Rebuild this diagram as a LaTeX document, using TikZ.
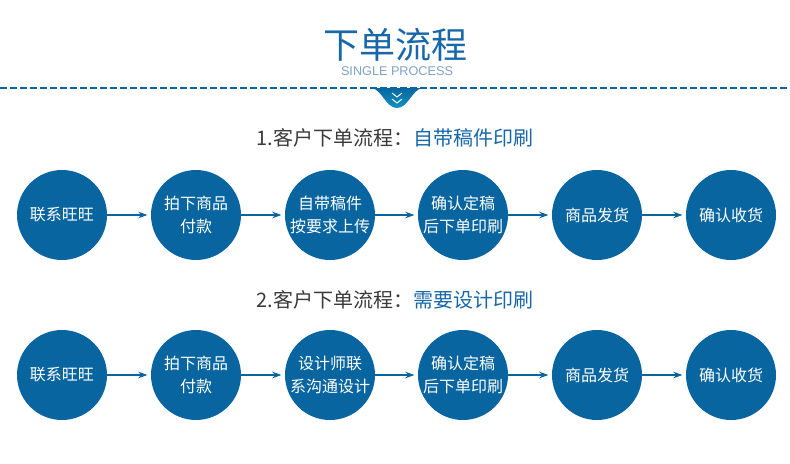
\documentclass[tikz,border=0pt]{standalone}
\usepackage{fontspec}
\setmainfont{Liberation Sans}
\newfontfamily\cjk{Noto Sans CJK SC}
\usepackage{tikz}
\usetikzlibrary{arrows, arrows.meta, positioning, shadings}
\usepackage{xcolor}
\definecolor{dotblue}{HTML}{08659F}
\definecolor{headblue}{HTML}{1767A9}
\definecolor{headgray}{HTML}{3A3A3A}
\definecolor{subblue}{HTML}{7FA2C6}
\tikzstyle{stage}     = [circle, fill=dotblue, minimum size=67.5pt, inner sep=0pt, align=center, text=white, font=\cjk\fontsize{12pt}{17pt}\selectfont]
\tikzstyle{flow}      = [draw=dotblue, line width=0.8pt, shorten >=2.5pt, -{Stealth[length=7pt,width=5pt,inset=2.5pt]}]
\tikzstyle{heading}   = [font=\cjk\fontsize{15pt}{17pt}\selectfont, inner sep=0pt]

\begin{document}
\begin{tikzpicture}[x=0.75pt,y=-0.75pt]

\useasboundingbox[fill=white] (0,0) rectangle (790,464);

% title
\node[font=\cjk\fontsize{27pt}{30pt}\selectfont, text=headblue, inner sep=0pt] (title) at (395,45) {下单流程};
\node[font=\fontsize{9.5pt}{11pt}\selectfont, text=subblue, inner sep=0pt] (sub) at (397,71) {SINGLE PROCESS};

% dashed rule with tab
\coordinate (ruleL) at (0,88);
\coordinate (ruleR) at (790,88);
\draw[dotblue, line width=0.8pt, dash pattern=on 5pt off 2.5pt] (ruleL) -- (ruleR);
\shade[top color=dotblue, bottom color=headblue!70!cyan] (372,88) .. controls (382,90) and (386,108) .. (397,108) .. controls (408,108) and (412,90) .. (422,88) -- cycle;
\draw[white, line width=0.7pt] (392,93) -- (397,97) -- (402,93);
\draw[white, line width=0.7pt] (392,99) -- (397,103) -- (402,99);

% first flow
\node[heading] (H1) at (395,138) {\textcolor{headgray}{1.客户下单流程：}\textcolor{headblue}{自带稿件印刷}};

\node[stage] (A1) at (62,215)  {联系旺旺};
\node[stage] (A2) at (196,215) {拍下商品\\付款};
\node[stage] (A3) at (330,215) {自带稿件\\按要求上传};
\node[stage] (A4) at (463,215) {确认定稿\\后下单印刷};
\node[stage] (A5) at (597,215) {商品发货};
\node[stage] (A6) at (731,215) {确认收货};

\draw[flow] (A1) -- (A2);
\draw[flow] (A2) -- (A3);
\draw[flow] (A3) -- (A4);
\draw[flow] (A4) -- (A5);
\draw[flow] (A5) -- (A6);

% second flow
\node[heading] (H2) at (395,300) {\textcolor{headgray}{2.客户下单流程：}\textcolor{headblue}{需要设计印刷}};

\node[stage] (B1) at (62,375)  {联系旺旺};
\node[stage] (B2) at (196,375) {拍下商品\\付款};
\node[stage] (B3) at (330,375) {设计师联\\系沟通设计};
\node[stage] (B4) at (463,375) {确认定稿\\后下单印刷};
\node[stage] (B5) at (597,375) {商品发货};
\node[stage] (B6) at (731,375) {确认收货};

\draw[flow] (B1) -- (B2);
\draw[flow] (B2) -- (B3);
\draw[flow] (B3) -- (B4);
\draw[flow] (B4) -- (B5);
\draw[flow] (B5) -- (B6);

\end{tikzpicture}
\end{document}
